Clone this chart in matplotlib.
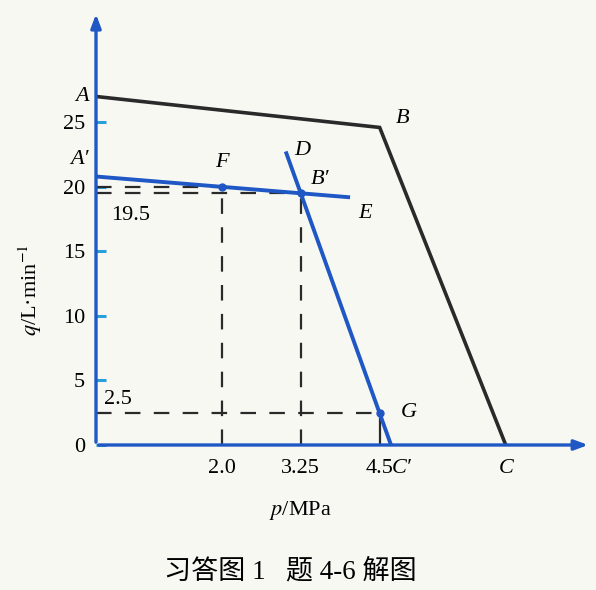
import matplotlib
matplotlib.use("Agg")
from matplotlib import pyplot as plt

# pump characteristic A-B-C and the changed one A'-E / D-C'
p_ABC = [0.0, 4.5, 6.5]
q_ABC = [27.0, 24.6, 0.0]
p_AE = [0.0, 4.0]
q_AE = [20.8, 19.2]
p_DC = [3.02, 4.68]
q_DC = [22.6, 0.0]

# working points F, B', G
p_pts = [2.0, 3.25, 4.5]
q_pts = [20.0, 19.5, 2.5]

y_ticks = [0, 5, 10, 15, 20, 25]
x_labels = ["2.0", "3.25", "4.5"]

BLUE = "#1f57c4"
DARK = "#2a2a2a"
FS = 16

plt.rcParams["font.family"] = ["Liberation Serif", "DejaVu Serif"]
plt.rcParams["mathtext.fontset"] = "stix"

fig = plt.figure(figsize=(5.96, 5.90), dpi=100)
fig.patch.set_facecolor("#f8f8f3")
ax = fig.add_axes([96/596, 145/590, 498/596, 435/590])
ax.set_facecolor("#f8f8f3")
ax.set_xlim(0, 7.9)
ax.set_ylim(0, 33.7)
for s in ax.spines.values():
    s.set_visible(False)

# axes with arrows
ax.annotate("", xy=(7.85, 0), xytext=(0, 0),
            arrowprops=dict(arrowstyle="-|>,head_length=0.8,head_width=0.3", color=BLUE, lw=2.4))
ax.annotate("", xy=(0, 33.6), xytext=(0, 0),
            arrowprops=dict(arrowstyle="-|>,head_length=0.8,head_width=0.3", color=BLUE, lw=2.4))

ax.set_yticks(y_ticks)
ax.set_yticklabels([str(t) for t in y_ticks], fontsize=FS)
ax.tick_params(axis="y", direction="in", length=7, width=2.2, color="#2aa0d8", pad=8)
ax.set_xticks([])

# dashed guides
dash = dict(color=DARK, lw=1.6, ls=(0, (7, 6)))
ax.plot([0, p_pts[0]], [q_pts[0], q_pts[0]], **dash)
ax.plot([0, p_pts[1]], [q_pts[1], q_pts[1]], **dash)
ax.plot([0, p_pts[2]], [q_pts[2], q_pts[2]], **dash)
ax.plot([p_pts[0], p_pts[0]], [0, q_pts[0]], **dash)
ax.plot([p_pts[1], p_pts[1]], [0, q_pts[1]], **dash)
ax.plot([p_pts[2], p_pts[2]], [0, q_pts[2]], color=DARK, lw=1.6)

# characteristic lines
ax.plot(p_ABC, q_ABC, color=DARK, lw=2.6, solid_joinstyle="miter")
ax.plot(p_AE, q_AE, color=BLUE, lw=2.8)
ax.plot(p_DC, q_DC, color=BLUE, lw=2.8)
ax.plot(p_pts, q_pts, "o", color=BLUE, ms=5)

lab = dict(fontsize=FS, style="italic")
ax.text(-0.12, 27.0, "A", ha="right", va="center", **lab)
ax.text(-0.12, 22.1, "A\u2032", ha="right", va="center", **lab)
ax.text(2.0, 21.9, "F", ha="center", va="center", **lab)
ax.text(3.27, 22.8, "D", ha="center", va="center", **lab)
ax.text(3.56, 20.6, "B\u2032", ha="center", va="center", **lab)
ax.text(4.27, 17.9, "E", ha="center", va="center", **lab)
ax.text(4.87, 25.3, "B", ha="center", va="center", **lab)
ax.text(4.97, 2.5, "G", ha="center", va="center", **lab)
ax.text(0.55, 17.8, "19.5", ha="center", va="center", fontsize=FS)
ax.text(0.35, 3.5, "2.5", ha="center", va="center", fontsize=FS)

for p, s in zip(p_pts, x_labels):
    ax.text(p, -1.8, s, ha="center", va="center", fontsize=FS)
ax.text(4.85, -1.8, "C\u2032", ha="center", va="center", **lab)
ax.text(6.5, -1.8, "C", ha="center", va="center", **lab)

fig.text(300/596, 1 - 510/590, "$p$/MPa", ha="center", va="center", fontsize=FS)
fig.text(30/596, 1 - 290/590, "$q$/L\u00b7min$^{-1}$", ha="center", va="center",
         rotation=90, fontsize=FS)
fig.text(290/596, 1 - 572/590, "习答图 1   题 4-6 解图", ha="center", va="center",
         fontsize=19.5, family=["Liberation Serif", "Noto Sans CJK SC"])

plt.savefig("out.png", dpi=100, facecolor=fig.get_facecolor())
